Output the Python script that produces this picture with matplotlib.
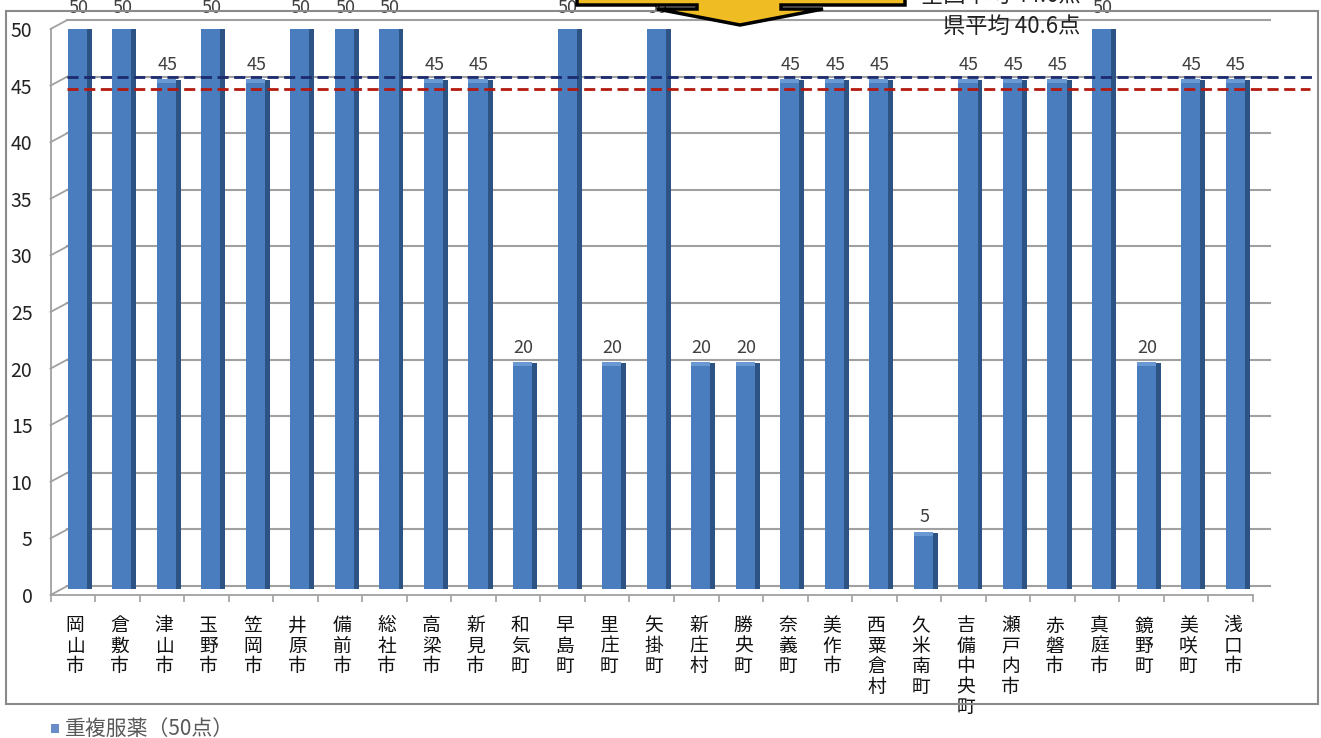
import matplotlib.pyplot as plt
from matplotlib.patches import Polygon, Rectangle

plt.rcParams['font.family'] = ['Noto Sans CJK JP', 'DejaVu Sans']

names = ['岡山市', '倉敷市', '津山市', '玉野市', '笠岡市', '井原市', '備前市', '総社市',
         '高梁市', '新見市', '和気町', '早島町', '里庄町', '矢掛町', '新庄村', '勝央町',
         '奈義町', '美作市', '西粟倉村', '久米南町', '吉備中央町', '瀬戸内市', '赤磐市',
         '真庭市', '鏡野町', '美咲町', '浅口市']
scores = [50, 50, 45, 50, 45, 50, 50, 50, 45, 45, 20, 50, 20, 50, 20, 20,
          45, 45, 45, 5, 45, 45, 45, 50, 20, 45, 45]
yticks = [0, 5, 10, 15, 20, 25, 30, 35, 40, 45, 50]
series_name = '重複服薬（50点）'
nat_text = '全国平均 44.6点'
pref_text = '県平均 40.6点'
nat_line = 45.8
pref_line = 44.7

W, H = 1321, 738


def fx(px):
    return px / W


def fy(py):
    return 1 - py / H


fig = plt.figure(figsize=(W / 100, H / 100), dpi=100)

# outer chart frame
fig.patches.append(Rectangle((fx(6), fy(704)), fx(1318) - fx(6), fy(11) - fy(704),
                             transform=fig.transFigure, fill=False,
                             edgecolor='#8a8a8a', lw=1.5, zorder=0))

ax = fig.add_axes([fx(50.5), fy(595), fx(1253) - fx(50.5), fy(29) - fy(595)])
ax.set_xlim(-0.5, len(names) - 0.5)
ax.set_ylim(0, 50)
ax.patch.set_alpha(0)

# pseudo-3D back wall gridlines
for v in yticks:
    ax.plot([-0.5, -0.12], [v, v + 0.8], color='#a0a0a0', lw=1.3, clip_on=False, zorder=1)
    ax.plot([-0.12, 26.88], [v + 0.8, v + 0.8], color='#a0a0a0', lw=1.5,
            clip_on=False, zorder=1)

x = list(range(len(names)))
front_x = [i + 0.1 for i in x]
ax.bar(front_x, scores, width=0.43, bottom=0.5, color='#4a7dbd', zorder=3)
ax.bar([i + 0.1 + 0.27 for i in x], scores, width=0.11, bottom=0.5, color='#2d5384', zorder=3)
ax.bar(front_x, [0.35] * len(x), width=0.43, bottom=[s + 0.2 for s in scores],
       color='#6a98d2', zorder=4)

for i, s in enumerate(scores):
    ax.text(i + 0.12, s + 1.85, str(s), ha='center', va='center', fontsize=13,
            color='#404040', zorder=5, clip_on=False)

# average lines
ax.plot([-0.13, 27.9], [nat_line, nat_line], color='#1c2a6e', lw=2, ls=(0, (4, 2)),
        clip_on=False, zorder=6)
ax.plot([-0.13, 27.78], [pref_line, pref_line], color='#b3190f', lw=2, ls=(0, (4, 2)),
        clip_on=False, zorder=6)

# axes styling
for side in ['top', 'right']:
    ax.spines[side].set_visible(False)
ax.spines['left'].set_color('#a0a0a0')
ax.spines['bottom'].set_color('#a0a0a0')
ax.spines['left'].set_linewidth(1.3)
ax.spines['bottom'].set_linewidth(1.3)
ax.set_yticks(yticks)
ax.tick_params(axis='y', length=0, pad=13, labelsize=14, labelcolor='#222222')
ax.set_xticks([i - 0.5 for i in range(len(names) + 1)])
ax.set_xticklabels([])
ax.tick_params(axis='x', length=5, color='#a0a0a0', width=1.2)

for i, n in enumerate(names):
    ax.text(i + 0.05, -1.8, '\n'.join(n), ha='center', va='top', fontsize=13.5,
            linespacing=0.97, color='#111111', clip_on=False)

# yellow arrow callout (cropped at top)
arrow_px = [(577, -10), (905, -10), (905, 5), (781, 5), (781, 9), (823, 9), (740, 25),
            (657, 9), (697, 9), (697, 5), (577, 5)]
fig.patches.append(Polygon([(fx(a), fy(b)) for a, b in arrow_px], closed=True,
                           transform=fig.transFigure, facecolor='#efbd23',
                           edgecolor='black', lw=2.5, zorder=10))

fig.text(fx(1001), fy(-5), nat_text, ha='center', va='center', fontsize=16, color='#222222')
fig.text(fx(1012), fy(26), pref_text, ha='center', va='center', fontsize=16, color='#222222')

# legend
fig.patches.append(Rectangle((fx(51), fy(733)), fx(8), 9 / H, transform=fig.transFigure,
                             facecolor='#6a8cc8', edgecolor='none'))
fig.text(fx(65), fy(729), series_name, ha='left', va='center', fontsize=15, color='#595959')

fig.savefig('out.png', dpi=100)
